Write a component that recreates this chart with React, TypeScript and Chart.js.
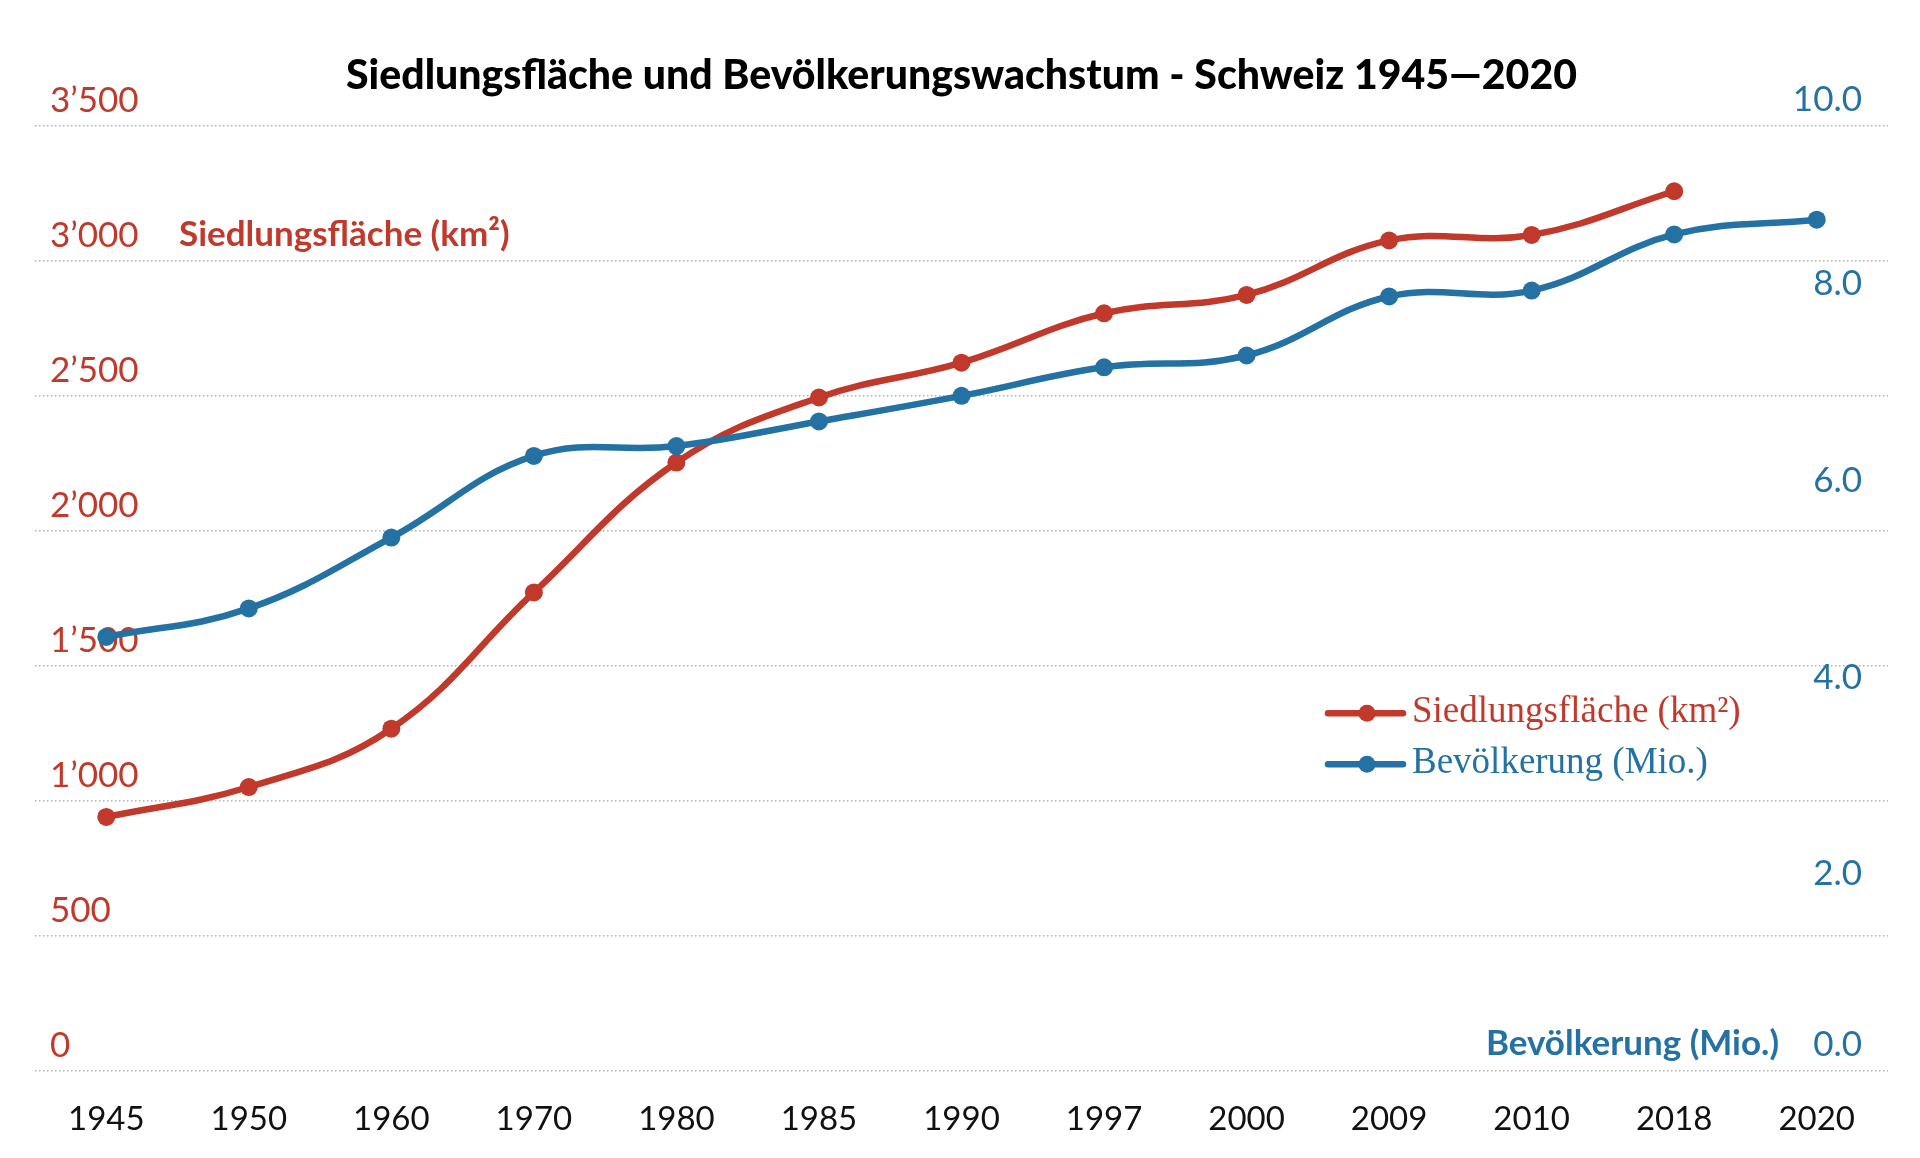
import { useEffect, useRef } from "react";
import { Chart, ChartConfiguration, Plugin, Scale, registerables } from "chart.js";

Chart.register(...registerables);

const years = ["1945", "1950", "1960", "1970", "1980", "1985", "1990", "1997", "2000", "2009", "2010", "2018", "2020"];
const settlementArea = [941, 1052, 1268, 1773, 2254, 2495, 2624, 2807, 2875, 3077, 3097, 3259, null];
const population = [4.41, 4.7, 5.42, 6.25, 6.35, 6.6, 6.86, 7.15, 7.27, 7.87, 7.93, 8.5, 8.65];
const areaTicks = [0, 500, 1000, 1500, 2000, 2500, 3000, 3500];
const popTicks = [0, 2, 4, 6, 8, 10];
const POP_MAX = 9.6; // top of the chart area on the right axis

const RED = "#c0392b";
const BLUE = "#2471a3";

const formatArea = (v: number) => String(v).replace(/\B(?=(\d{3})+(?!\d))/g, "\u2019");

// mirrored axes should not take any room
const noRoom = (scale: Scale) => {
	scale.width = 0;
	scale.paddingTop = 0;
	scale.paddingBottom = 0;
};

const overlay: Plugin<"line"> = {
	id: "overlay",
	afterDraw(chart) {
		const { ctx, chartArea, scales } = chart;
		ctx.save();
		ctx.textBaseline = "middle";

		// axis captions
		ctx.font = "bold 35px Lato";
		ctx.fillStyle = RED;
		ctx.textAlign = "left";
		ctx.fillText("Siedlungsfläche (km²)", chartArea.left + 144, scales.y.getPixelForValue(3000) - 26.5);
		ctx.fillStyle = BLUE;
		ctx.textAlign = "right";
		ctx.fillText("Bevölkerung (Mio.)", chartArea.right - 109, scales.y1.getPixelForValue(0) - 27);

		// legend
		const x0 = chartArea.left + 1293;
		ctx.font = "37px 'Liberation Serif'";
		ctx.textAlign = "left";
		chart.data.datasets.forEach((ds, i) => {
			const y = chartArea.top + 587 + i * 51;
			const color = ds.borderColor as string;
			ctx.strokeStyle = color;
			ctx.fillStyle = color;
			ctx.lineWidth = 6.5;
			ctx.lineCap = "round";
			ctx.beginPath();
			ctx.moveTo(x0, y);
			ctx.lineTo(x0 + 75, y);
			ctx.stroke();
			ctx.beginPath();
			ctx.arc(x0 + 39, y, 8.5, 0, Math.PI * 2);
			ctx.fill();
			ctx.fillText(ds.label as string, x0 + 84, y - 1);
		});
		ctx.restore();
	},
};

export default function App() {
	const canvasRef = useRef<HTMLCanvasElement | null>(null);

	useEffect(() => {
		if (!canvasRef.current) return;

		const config: ChartConfiguration<"line", (number | null)[], string> = {
			type: "line",
			data: {
				labels: years,
				datasets: [
					{
						label: "Siedlungsfläche (km²)",
						data: settlementArea,
						borderColor: RED,
						backgroundColor: RED,
						pointBackgroundColor: RED,
						borderWidth: 6.5,
						pointRadius: 9,
						pointBorderWidth: 0,
						tension: 0.4,
						yAxisID: "y",
						order: 1,
					},
					{
						label: "Bevölkerung (Mio.)",
						data: population,
						borderColor: BLUE,
						backgroundColor: BLUE,
						pointBackgroundColor: BLUE,
						borderWidth: 6.5,
						pointRadius: 9,
						pointBorderWidth: 0,
						tension: 0.4,
						yAxisID: "y1",
						order: 0,
					},
				],
			},
			options: {
				animation: false,
				responsive: true,
				maintainAspectRatio: false,
				layout: {
					padding: { left: 27, right: 24, top: 0, bottom: 0 },
				},
				scales: {
					x: {
						offset: true,
						grid: { display: false },
						border: { display: false },
						afterFit: (scale) => {
							scale.height = 79;
						},
						ticks: {
							color: "#111",
							padding: 21,
							font: { family: "Lato", size: 33 },
						},
					},
					y: {
						position: "left",
						min: 0,
						max: 3500,
						afterBuildTicks: (scale) => {
							scale.ticks = areaTicks.map((v) => ({ value: v }));
						},
						afterFit: noRoom,
						grid: {
							color: "#b3b3b3",
							lineWidth: 1.5,
							drawTicks: false,
						},
						border: { display: false, dash: [1.5, 2.5] },
						ticks: {
							mirror: true,
							padding: 15,
							labelOffset: -25.5,
							color: RED,
							font: { family: "Lato", size: 35, weight: "400" },
							callback: (value) => formatArea(Number(value)),
						},
					},
					y1: {
						position: "right",
						min: 0,
						max: POP_MAX,
						afterBuildTicks: (scale) => {
							scale.ticks = popTicks.map((v) => ({ value: Math.min(v, POP_MAX) }));
						},
						afterFit: noRoom,
						grid: { display: false, drawTicks: false },
						border: { display: false },
						ticks: {
							mirror: true,
							padding: -26,
							color: BLUE,
							font: { family: "Lato", size: 35, weight: "400", lineHeight: 1.5 },
							callback: (_value, index) => {
								const label = popTicks[index].toFixed(1);
								// the end labels sit above their line, like the left ones
								return index === 0 || index === popTicks.length - 1 ? [label, ""] : label;
							},
						},
					},
				},
				plugins: {
					legend: { display: false },
					tooltip: { enabled: false },
					title: {
						display: true,
						text: "Siedlungsfläche und Bevölkerungswachstum - Schweiz 1945\u20142020",
						color: "#000",
						font: { family: "Lato", size: 41, weight: "900", lineHeight: 1.2 },
						padding: { top: 43, bottom: 26 },
					},
				},
			},
			plugins: [overlay],
		};

		const chart = new Chart(canvasRef.current, config);
		return () => {
			chart.destroy();
		};
	}, []);

	return (
		<div style={{ width: 1904, height: 1142, position: "relative" }}>
			<canvas ref={canvasRef}></canvas>
		</div>
	);
}
